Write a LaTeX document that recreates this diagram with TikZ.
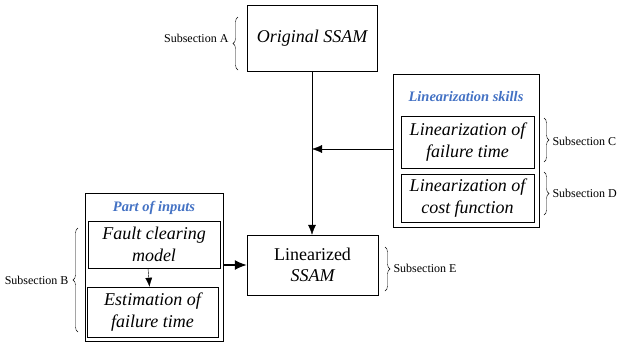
\documentclass[tikz,border=0pt]{standalone}
\usepackage{fontspec}
\setmainfont{LiberationSerif}[Extension=.ttf,UprightFont=*-Regular,BoldFont=*-Bold,ItalicFont=*-Italic,BoldItalicFont=*-BoldItalic]
\usetikzlibrary{decorations.pathreplacing,arrows.meta}
\definecolor{titleblue}{RGB}{68,114,196}

\begin{document}
\begin{tikzpicture}[x=1pt,y=-1pt]
            \tikzstyle{block}=[draw,inner sep=0pt,align=center,font=\fontsize{18}{21.5}\selectfont\itshape]
            \tikzstyle{group}=[draw,inner sep=0pt]
            \tikzstyle{grouptitle}=[text=titleblue,font=\fontsize{14.5}{16}\selectfont\bfseries\itshape]
            \tikzstyle{sublabel}=[font=\fontsize{12}{14}\selectfont]
            \tikzstyle{subbrace}=[decorate,decoration={brace,amplitude=5pt}]

            \useasboundingbox (0,0) rectangle (619,346);

            \node (orig) at (312,38) [block,minimum width=130pt,minimum height=66pt] {Original SSAM};
            \node (lin) at (312.5,265) [block,minimum width=131pt,minimum height=60pt] {\upshape Linearized\\SSAM};

            \node (skills) at (466,150.5) [group,minimum width=146pt,minimum height=153pt] {};
            \node (skillsT) at (466,97) [grouptitle] {Linearization skills};
            \node (linC) at (467.5,142) [block,minimum width=133pt,minimum height=52pt] {Linearization of\\failure time};
            \node (linD) at (467.5,198) [block,minimum width=133pt,minimum height=48pt] {Linearization of\\cost function};

            \node (inputs) at (154,267) [group,minimum width=138pt,minimum height=148pt] {};
            \node (inputsT) at (154,208) [grouptitle] {Part of inputs};
            \node (fault) at (154,244.5) [block,minimum width=132pt,minimum height=47pt] {Fault clearing\\model};
            \node (est) at (152.5,312) [block,minimum width=131pt,minimum height=50pt] {Estimation of\\failure time};

            \draw[-{Latex[length=10pt,width=8pt]}] (orig.south) to (orig.south |- lin.north);
            \draw[-{Latex[length=10pt,width=8pt]}] (skills.west |- 0,149) to (orig.south |- 0,149);
            \draw[-{Latex[length=12pt,width=10pt]}, line width=1.5pt] (inputs.east |- lin.west) to (lin.west);
            \draw[-{Latex[length=9pt,width=7pt]}] ([xshift=-6pt]fault.south) to ([xshift=-4.5pt]fault.south |- est.north);

            % braces
            \draw[subbrace] (238,70) -- (238,17);
            \node (subA) at (232,38) [sublabel,anchor=east] {Subsection A};
            \draw[subbrace] (78,332) -- (78,228);
            \node (subB) at (72,280) [sublabel,anchor=east] {Subsection B};
            \draw[subbrace] (544,118) -- (544,162);
            \node (subC) at (549,141) [sublabel,anchor=west] {Subsection C};
            \draw[subbrace] (544,172) -- (544,215);
            \node (subD) at (549,193) [sublabel,anchor=west] {Subsection D};
            \draw[subbrace] (385,247) -- (385,291);
            \node (subE) at (390,268) [sublabel,anchor=west] {Subsection E};
          \end{tikzpicture}
\end{document}
